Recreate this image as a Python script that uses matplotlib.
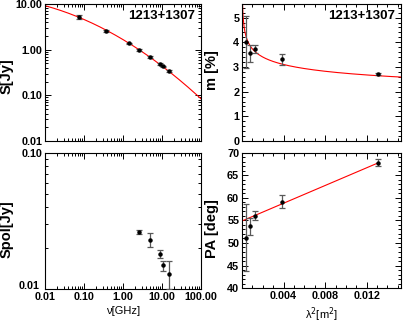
import numpy as np
import matplotlib.pyplot as plt
import matplotlib.transforms as mtransforms
from matplotlib.ticker import FixedLocator, MultipleLocator, LogLocator, NullFormatter, FuncFormatter

# total flux vs frequency
nu_s = [0.074, 0.365, 1.43, 2.62, 4.83, 8.9, 10.8, 15.4]
s_tot = [5.1, 2.57, 1.38, 0.99, 0.70, 0.49, 0.43, 0.34]
s_err = [0.5, 0.08, 0.05, 0.04, 0.03, 0.02, 0.02, 0.02]
# fit log S = a + b log nu + c log nu^2
s_fit = [0.2207, -0.5096, -0.0693]

# polarized flux
nu_p = [2.62, 4.83, 8.9, 10.8, 15.4]
s_pol = [0.0262, 0.0231, 0.0181, 0.0149, 0.0130]
s_pol_err = [0.0008, 0.0026, 0.0012, 0.0013, 0.003]

# fractional polarization vs lambda^2
lam2 = [0.00038, 0.00077, 0.00127, 0.00386, 0.0131]
m_pol = [4.02, 3.55, 3.74, 3.31, 2.72]
m_err = [1.05, 0.34, 0.16, 0.23, 0.03]
m_fit = [1.479, -0.134]  # m = A * lam2^p

# polarization angle vs lambda^2
pa = [51.2, 53.7, 56.0, 59.2, 67.8]
pa_err = [7.5, 1.9, 1.0, 1.5, 0.8]
pa_fit = [54.9, 985.0]  # PA = a + RM * lam2

source = "1213+1307"

plt.rcParams['font.family'] = ['Liberation Sans', 'DejaVu Sans']
fig = plt.figure(figsize=(4.07, 3.23), dpi=100)
W, H = 407.0, 323.0


def box(x0, y0, x1, y1):
    return fig.add_axes([x0 / W, 1 - y1 / H, (x1 - x0) / W, (y1 - y0) / H])


ax_s = box(45, 4, 201, 141)
ax_p = box(45, 153, 201, 289)
ax_m = box(242, 4, 401, 141)
ax_pa = box(242, 153, 401, 288)

ebkw = dict(fmt='o', ms=2.2, color='black', ecolor='0.35', elinewidth=0.9,
            capsize=2.5, capthick=0.9, zorder=3)
lab_font = dict(fontsize=10.5, fontweight='bold')


def style(ax):
    ax.tick_params(which='both', direction='in', top=True, right=True, width=0.7)
    ax.tick_params(which='major', length=4, pad=2)
    ax.tick_params(which='minor', length=2)
    for sp in ax.spines.values():
        sp.set_linewidth(0.8)
    for t in ax.get_xticklabels() + ax.get_yticklabels():
        t.set_fontsize(7.8)
        t.set_fontweight('bold')


fmt2 = FuncFormatter(lambda v, p: "%.2f" % v)

# S vs nu
ax_s.set_xscale('log')
ax_s.set_yscale('log')
ax_s.errorbar(nu_s, s_tot, yerr=s_err, **ebkw)
xx = np.logspace(-2, 2, 200)
lx = np.log10(xx)
ax_s.plot(xx, 10 ** (s_fit[0] + s_fit[1] * lx + s_fit[2] * lx ** 2), color='red', lw=0.8)
ax_s.set_xlim(0.01, 100)
ax_s.set_ylim(0.01, 10)
ax_s.yaxis.set_major_formatter(fmt2)
ax_s.xaxis.set_major_formatter(NullFormatter())
ax_s.set_ylabel('S[Jy]', **lab_font)
ax_s.yaxis.set_label_coords(-0.2, 0.47)
ax_s.text(0.96, 0.91, source, transform=ax_s.transAxes, ha='right', va='center',
          fontsize=9.5, fontweight='bold')

# Spol vs nu
ax_p.set_xscale('log')
ax_p.set_yscale('log')
ax_p.errorbar(nu_p, s_pol, yerr=s_pol_err, **ebkw)
ax_p.set_xlim(0.01, 100)
ax_p.set_ylim(0.01, 0.1)
ax_p.xaxis.set_major_formatter(fmt2)
ax_p.yaxis.set_major_formatter(fmt2)
ax_p.yaxis.set_minor_formatter(NullFormatter())
ax_p.set_xlabel('ν[GHz]', fontsize=8, labelpad=3)
ax_p.set_ylabel('Spol[Jy]', **lab_font)
ax_p.yaxis.set_label_coords(-0.2, 0.44)

for ax in (ax_s, ax_p):
    ax.xaxis.set_major_locator(LogLocator(base=10, numticks=10))
    ax.xaxis.set_minor_locator(LogLocator(base=10, subs=np.arange(2, 10), numticks=10))
    ax.yaxis.set_major_locator(LogLocator(base=10, numticks=10))
    ax.yaxis.set_minor_locator(LogLocator(base=10, subs=np.arange(2, 10), numticks=10))

# m vs lambda^2
ax_m.errorbar(lam2, m_pol, yerr=m_err, **ebkw)
lx2 = np.linspace(1e-5, 0.0153, 400)
ax_m.plot(lx2, m_fit[0] * lx2 ** m_fit[1], color='red', lw=0.8)
ax_m.set_xlim(0, 0.0153)
ax_m.set_ylim(0, 5.55)
ax_m.yaxis.set_major_locator(MultipleLocator(1))
ax_m.yaxis.set_minor_locator(MultipleLocator(0.2))
ax_m.set_ylabel('m [%]', **lab_font)
ax_m.yaxis.set_label_coords(-0.145, 0.515)
ax_m.text(0.96, 0.91, source, transform=ax_m.transAxes, ha='right', va='center',
          fontsize=9.5, fontweight='bold')

# PA vs lambda^2
ax_pa.errorbar(lam2, pa, yerr=pa_err, **ebkw)
lx3 = np.array([0, lam2[-1]])
ax_pa.plot(lx3, pa_fit[0] + pa_fit[1] * lx3, color='red', lw=0.8)
ax_pa.set_xlim(0, 0.0153)
ax_pa.set_ylim(40, 70)
ax_pa.yaxis.set_major_locator(MultipleLocator(5))
ax_pa.yaxis.set_minor_locator(MultipleLocator(1))
ax_pa.set_xlabel('λ$^2$[m$^2$]', fontsize=8, labelpad=3)
ax_pa.set_ylabel('PA [deg]', **lab_font)
ax_pa.yaxis.set_label_coords(-0.145, 0.44)

for ax in (ax_m, ax_pa):
    ax.xaxis.set_major_locator(FixedLocator([0.004, 0.008, 0.012]))
    ax.xaxis.set_minor_locator(MultipleLocator(0.001))
    ax.xaxis.set_major_formatter(FuncFormatter(lambda v, p: "%.3f" % v))
ax_m.xaxis.set_major_formatter(NullFormatter())

for ax in (ax_s, ax_p, ax_m, ax_pa):
    style(ax)

# lift the lowest y label of the Spol panel clear of the x label
fig.canvas.draw()
shift = mtransforms.ScaledTranslation(-2 / 72, 3 / 72, fig.dpi_scale_trans)
for t in ax_p.get_yticklabels():
    if t.get_text() == '0.01':
        t.set_transform(t.get_transform() + shift)

fig.savefig('out.png', dpi=100)
